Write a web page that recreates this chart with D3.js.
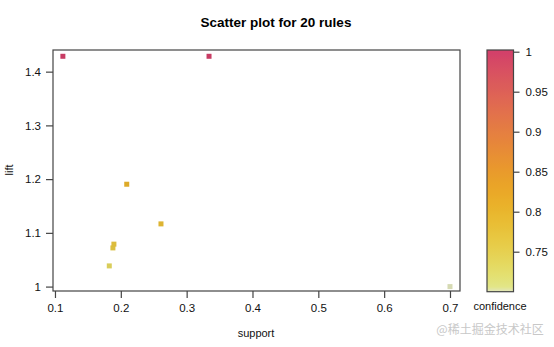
<!DOCTYPE html>
<html>
<head>
<meta charset="utf-8">
<script src="https://cdn.jsdelivr.net/npm/d3@7"></script>
<style>
html,body{margin:0;padding:0;background:#fff;}
svg{display:block;font-family:"Liberation Sans",Arial,sans-serif;}
</style>
</head>
<body>
<svg id="chart" width="554" height="347"></svg>
<script>
// ---- data ----
const support    = [0.112, 0.334, 0.209, 0.261, 0.1895, 0.188, 0.1825, 0.700];
const lift       = [1.4286, 1.4286, 1.1905, 1.1167, 1.0790, 1.0720, 1.0385, 1.0000];
const confidence = [1.000, 1.000, 0.805, 0.785, 0.770, 0.765, 0.735, 0.700];
const xTicks = [0.1, 0.2, 0.3, 0.4, 0.5, 0.6, 0.7];
const yTicks = [1, 1.1, 1.2, 1.3, 1.4];
const cTicks = [0.75, 0.8, 0.85, 0.9, 0.95, 1];
const titleText = "Scatter plot for 20 rules";

// heat_hcl (colorspace) via polar LUV -> sRGB
function luvToHex(L, C, H) {
  const h = H * Math.PI / 180;
  const U = C * Math.cos(h), V = C * Math.sin(h);
  const Xn = 95.047, Yn = 100, Zn = 108.883;
  const den = Xn + 15 * Yn + 3 * Zn;
  const un = 4 * Xn / den, vn = 9 * Yn / den;
  const Y = L > 8 ? Yn * Math.pow((L + 16) / 116, 3) : Yn * L / 903.3;
  const up = U / (13 * L) + un, vp = V / (13 * L) + vn;
  const X = 9 * Y * up / (4 * vp);
  const Z = -X / 3 - 5 * Y + 3 * Y / vp;
  const x = X / 100, y = Y / 100, z = Z / 100;
  let r = 3.240479 * x - 1.537150 * y - 0.498535 * z;
  let g = -0.969256 * x + 1.875992 * y + 0.041556 * z;
  let b = 0.055648 * x - 0.204043 * y + 1.057311 * z;
  const gam = v => { v = v <= 0.0031308 ? 12.92 * v : 1.055 * Math.pow(v, 1 / 2.4) - 0.055; return Math.max(0, Math.min(255, Math.round(v * 255))); };
  return d3.rgb(gam(r), gam(g), gam(b)).formatHex();
}
function heat(t) { // t: 0 (low) .. 1 (high)
  t = Math.max(0, Math.min(1, t));
  return luvToHex(90 - 40 * t, 30 + 70 * Math.pow(t, 0.2), 90 - 90 * t);
}

const svg = d3.select("#chart");
const plot = {left: 53, right: 460, top: 50, bottom: 291};
const x = d3.scaleLinear().domain([0.097, 0.7152]).range([plot.left, plot.right]);
const y = d3.scaleLinear().domain([0.9918, 1.4403]).range([plot.bottom, plot.top]);
const cMin = 0.7, cMax = 1.0;
const cNorm = d3.scaleLinear().domain([cMin, cMax]).range([0, 1]);

// title
svg.append("text").attr("x", 276).attr("y", 27).attr("text-anchor", "middle")
  .attr("font-size", "13.5px").attr("font-weight", "bold").attr("fill", "#000").text(titleText);

// points
const pts = support.map((s, i) => ({s, l: lift[i], c: confidence[i]}));
pts.sort((a, b) => a.c - b.c);
svg.append("g").selectAll("rect").data(pts).join("rect")
  .attr("x", d => x(d.s) - 2.5).attr("y", d => y(d.l) - 2.5)
  .attr("width", 5).attr("height", 5)
  .attr("fill", d => d3.color(heat(cNorm(d.c))).darker(0.15));

// box
svg.append("rect").attr("x", plot.left).attr("y", plot.top)
  .attr("width", plot.right - plot.left).attr("height", plot.bottom - plot.top)
  .attr("fill", "none").attr("stroke", "#444").attr("stroke-width", 1.2);

// x axis
const xa = svg.append("g").attr("transform", `translate(0,${plot.bottom})`)
  .call(d3.axisBottom(x).tickValues(xTicks).tickFormat(d3.format("")).tickSize(7).tickPadding(6));
// y axis
const ya = svg.append("g").attr("transform", `translate(${plot.left},0)`)
  .call(d3.axisLeft(y).tickValues(yTicks).tickFormat(d3.format("")).tickSize(7).tickPadding(5));
[xa, ya].forEach(a => {
  a.select(".domain").remove();
  a.selectAll(".tick line").attr("stroke", "#444").attr("stroke-width", 1.2);
  a.selectAll(".tick text").attr("font-size", "11.5px").attr("fill", "#111")
    .attr("font-family", '"Liberation Sans",Arial,sans-serif');
});

// axis titles
svg.append("text").attr("x", 256).attr("y", 337).attr("text-anchor", "middle")
  .attr("font-size", "11px").attr("fill", "#111").text("support");
svg.append("text").attr("transform", "translate(13,170) rotate(-90)").attr("text-anchor", "middle")
  .attr("font-size", "11px").attr("fill", "#111").text("lift");

// colorbar
const cb = {left: 487, right: 513.5, top: 50, bottom: 291.7};
const cy = d3.scaleLinear().domain([cMin, cMax]).range([cb.bottom, 51.7]);
const cDomTop = cy.invert(cb.top);
const defs = svg.append("defs");
const grad = defs.append("linearGradient").attr("id", "cg")
  .attr("x1", 0).attr("y1", 1).attr("x2", 0).attr("y2", 0);
d3.range(0, 1.0001, 0.02).forEach(f => {
  const v = cMin + f * (cDomTop - cMin);
  grad.append("stop").attr("offset", f).attr("stop-color", heat(cNorm(v)));
});
svg.append("rect").attr("x", cb.left).attr("y", cb.top)
  .attr("width", cb.right - cb.left).attr("height", cb.bottom - cb.top)
  .attr("fill", "url(#cg)").attr("stroke", "#444").attr("stroke-width", 1.2);
const ca = svg.append("g").attr("transform", `translate(${cb.right},0)`)
  .call(d3.axisRight(cy).tickValues(cTicks).tickFormat(d3.format("")).tickSize(6).tickPadding(6));
ca.select(".domain").remove();
ca.selectAll(".tick line").attr("stroke", "#444").attr("stroke-width", 1.2);
ca.selectAll(".tick text").attr("font-size", "11.5px").attr("fill", "#111")
  .attr("font-family", '"Liberation Sans",Arial,sans-serif');
svg.append("text").attr("x", 500).attr("y", 310).attr("text-anchor", "middle")
  .attr("font-size", "11px").attr("fill", "#111").text("confidence");

// watermark
svg.append("text").attr("x", 490).attr("y", 334).attr("text-anchor", "middle")
  .attr("font-size", "12px").attr("fill", "#c8c8c8")
  .attr("font-family", '"Noto Sans CJK SC",sans-serif').text("@稀土掘金技术社区");
</script>
</body>
</html>
